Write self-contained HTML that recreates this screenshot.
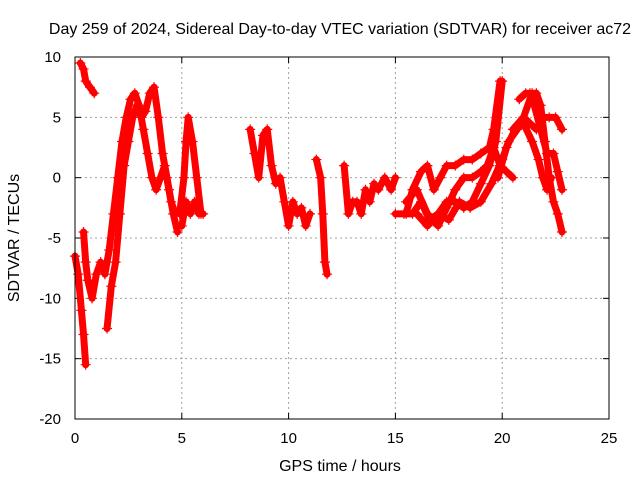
<!DOCTYPE html>
<html><head><meta charset="utf-8"><style>
body{margin:0;background:#fff}
svg{display:block;font-family:"Liberation Sans",sans-serif}
</style></head><body>
<svg id="chart" width="640" height="480">
<text x="340" y="34" text-anchor="middle" font-size="16">Day 259 of 2024, Sidereal Day-to-day VTEC variation (SDTVAR) for receiver ac72</text>
<text x="340" y="471" text-anchor="middle" font-size="16">GPS time / hours</text>
<text transform="translate(19,238) rotate(-90)" text-anchor="middle" font-size="16">SDTVAR / TECUs</text>
<g id="grid"></g><g id="marks"></g>
<rect x="75" y="57" width="534" height="362" fill="none" stroke="#000"/>
</svg>
<script>
const xTicks=[0,5,10,15,20,25];
const yTicks=[-20,-15,-10,-5,0,5,10];
const t1=[[0,-6.5],[0.15,-8],[0.3,-11],[0.4,-13],[0.5,-15.5]];
const t2=[[0.25,9.5],[0.4,9],[0.5,8],[0.7,7.5],[0.9,7]];
const t3=[[0.4,-4.5],[0.5,-7],[0.6,-8.5],[0.8,-10],[1.0,-8],[1.2,-7],[1.4,-8],[1.6,-6],[1.8,-3],[2.0,0],[2.2,3],[2.4,5],[2.6,6.5],[2.8,7],[3.0,6],[3.2,4],[3.4,2],[3.6,0],[3.8,-1],[4.0,0],[4.2,1],[4.4,-1],[4.6,-3],[4.8,-4.5]];
const t4=[[1.5,-12.5],[1.7,-9],[1.9,-7],[2.1,-3],[2.3,1],[2.5,3],[2.7,5],[2.9,6],[3.1,5],[3.3,5.5],[3.5,7],[3.7,7.5],[3.9,5],[4.1,2],[4.3,0],[4.5,-2],[4.7,-3]];
const t5=[[4.9,-3],[5.1,0],[5.2,3],[5.3,5],[5.5,3],[5.7,0],[5.9,-3],[6.0,-3]];
const t5b=[[5.0,-4],[5.2,-2],[5.4,-3],[5.6,-2],[5.8,-3]];
const t6=[[8.2,4],[8.4,2],[8.6,0],[8.8,3.5],[9.0,4],[9.2,1],[9.4,-0.5],[9.6,0],[9.8,-2],[10.0,-4],[10.2,-2],[10.4,-3],[10.6,-2.5],[10.8,-4],[11.0,-3]];
const t7=[[11.3,1.5],[11.5,0],[11.6,-3],[11.7,-7],[11.8,-8]];
const t8=[[12.6,1],[12.8,-3],[13.0,-2],[13.2,-2],[13.4,-3],[13.6,-1],[13.8,-2],[14.0,-0.5],[14.2,-1],[14.5,0],[14.8,-1],[15.0,0]];
const t9=[[15.0,-3],[15.4,-3],[15.8,-3],[16.2,-2],[16.6,-3.5],[17.0,-3],[17.4,-2],[17.8,-2],[18.2,-2.5],[18.6,-2],[19.0,-0.5],[19.4,1],[19.7,3],[20.0,8]];
const t10=[[15.5,-3],[15.8,-1],[16.2,0.5],[16.5,1],[16.8,-1],[17.1,0],[17.4,1],[17.8,1],[18.2,1.5],[18.6,1.5],[19.0,2],[19.4,2.5],[19.6,4],[19.9,8]];
const t11=[[15.5,-2],[16.0,-1],[16.5,-3],[17.0,-4],[17.4,-2.5],[17.8,-1],[18.2,0],[18.6,0],[19.0,0.5],[19.3,1],[19.6,2.5],[19.9,1],[20.2,0.5],[20.5,0]];
const t12=[[16.0,-3],[16.5,-4],[17.0,-3],[17.5,-3.5],[18.0,-2],[18.5,-2.5],[19.0,-2],[19.5,-0.5],[20.0,1.5],[20.3,3],[20.7,4],[21.0,5],[21.4,7],[21.6,7],[21.8,6],[22.0,3],[22.2,0],[22.4,-2],[22.6,-3],[22.8,-4.5]];
const t13=[[19.8,0],[20.2,2.5],[20.6,4],[21.0,4.5],[21.4,3],[21.7,1.5],[21.9,0],[22.1,-1],[22.3,0]];
const t14=[[20.5,4],[21.0,5],[21.3,4.5],[21.6,4],[21.9,5],[22.2,5],[22.5,5],[22.8,4]];
const t15=[[20.8,6.5],[21.1,7],[21.3,7],[21.5,6],[21.8,4],[22.1,2],[22.4,2],[22.6,0.5],[22.8,-1]];
const tracks=[t1,t2,t3,t4,t5,t5b,t6,t7,t8,t9,t10,t11,t12,t13,t14,t15];
const NS="http://www.w3.org/2000/svg";
const X0=75,X1=609,Y0=419,Y1=57;
function sx(v){return X0+(v-0)/(25-0)*(X1-X0);}
function sy(v){return Y0-(v+20)/(30)*(Y0-Y1);}
const grid=document.getElementById('grid'),marks=document.getElementById('marks');
function mk(tag,attrs,parent){const e=document.createElementNS(NS,tag);for(const k in attrs)e.setAttribute(k,attrs[k]);parent.appendChild(e);return e;}
xTicks.forEach(t=>{
  const x=sx(t);
  if(t>0&&t<25){const g=mk('line',{x1:x,x2:x,y1:Y1,y2:Y0,stroke:'#a0a0a0','stroke-dasharray':'2,3'},grid);
  
  }
  mk('line',{x1:x,x2:x,y1:Y0,y2:Y0-6,stroke:'#000'},grid);
  mk('line',{x1:x,x2:x,y1:Y1,y2:Y1+6,stroke:'#000'},grid);
  const l=mk('text',{x:x,y:Y0+24,'text-anchor':'middle','font-size':15},grid);l.textContent=t;
  
  
});
yTicks.forEach(t=>{
  const y=sy(t);
  if(t>-20&&t<10){const g=mk('line',{x1:X0,x2:X1,y1:y,y2:y,stroke:'#a0a0a0','stroke-dasharray':'2,3'},grid);
  
  }
  mk('line',{x1:X0,x2:X0+6,y1:y,y2:y,stroke:'#000'},grid);
  mk('line',{x1:X1,x2:X1-6,y1:y,y2:y,stroke:'#000'},grid);
  const l=mk('text',{x:X0-14,y:y+5,'text-anchor':'end','font-size':15},grid);l.textContent=t;
  
  
});
tracks.forEach(tr=>{
  const p=mk('polyline',{points:tr.map(d=>sx(d[0])+','+sy(d[1])).join(' '),fill:'none',stroke:'#ff0000','stroke-width':7,'stroke-linejoin':'round','stroke-linecap':'round'},marks);
  
  
  tr.forEach(d=>{
    const x=sx(d[0]),y=sy(d[1]);
    const m=mk('path',{d:`M${x-5},${y}H${x+5}M${x},${y-5}V${y+5}`,stroke:'#ff0000','stroke-width':1.2},marks);
    
    
  });
});
</script>
</body></html>
